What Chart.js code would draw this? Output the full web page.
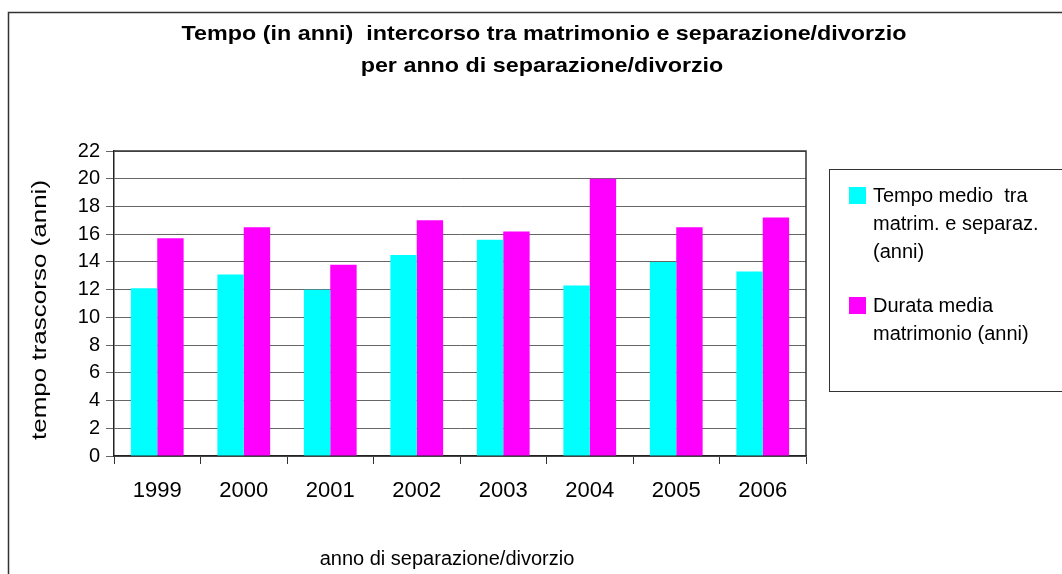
<!DOCTYPE html>
<html>
<head>
<meta charset="utf-8">
<script src="https://cdn.jsdelivr.net/npm/chart.js@4/dist/chart.umd.min.js"></script>
<style>
  html, body { margin: 0; padding: 0; background: #fff; }
  #wrap { width: 1062px; height: 574px; }
</style>
</head>
<body>
<div id="wrap"><canvas id="c" width="1062" height="574"></canvas></div>
<script>
// Years of separation/divorce
const years = ['1999', '2000', '2001', '2002', '2003', '2004', '2005', '2006'];

// Average time between marriage and separation (years)
const tempoMedio = [12.1, 13.1, 12.0, 14.5, 15.6, 12.3, 14.0, 13.3];
// Average marriage duration (years)
const durataMedia = [15.7, 16.5, 13.8, 17.0, 16.2, 20.0, 16.5, 17.2];

const seriesNames = [
  'Tempo medio  tra matrim. e separaz. (anni)',
  'Durata media matrimonio (anni)'
];
const legendLines = [
  ['Tempo medio  tra', 'matrim. e separaz.', '(anni)'],
  ['Durata media', 'matrimonio (anni)']
];
const titleLines = [
  'Tempo (in anni)  intercorso tra matrimonio e separazione/divorzio',
  'per anno di separazione/divorzio'
];
const yTitle = 'tempo trascorso (anni)';
const xTitle = 'anno di separazione/divorzio';

const FONT = '"Liberation Sans", Arial, sans-serif';

// Draws text at (x, y), stretched horizontally by sx and optionally rotated
function stretchedText(ctx, text, x, y, sx, angle) {
  ctx.save();
  ctx.translate(x, y);
  if (angle) ctx.rotate(angle);
  ctx.scale(sx, 1);
  ctx.fillText(text, 0, 0);
  ctx.restore();
}

// Outer frame, plot border, titles and the boxed legend
const decorations = {
  id: 'decorations',
  beforeDraw(chart) {
    const ctx = chart.ctx;
    ctx.save();
    ctx.fillStyle = '#fff';
    ctx.fillRect(0, 0, chart.width, chart.height);
    ctx.strokeStyle = '#333';
    ctx.lineWidth = 1.5;
    ctx.strokeRect(8.5, 12.5, chart.width + 40, chart.height + 40);
    ctx.restore();
  },
  afterDraw(chart) {
    const ctx = chart.ctx;
    const a = chart.chartArea;
    ctx.save();
    // plot border
    ctx.strokeStyle = '#333';
    ctx.lineWidth = 1.5;
    ctx.beginPath();
    ctx.moveTo(a.left, a.top);
    ctx.lineTo(a.right, a.top);
    ctx.lineTo(a.right, a.bottom);
    ctx.stroke();

    // chart title
    ctx.fillStyle = '#000';
    ctx.font = 'bold 21px ' + FONT;
    ctx.textAlign = 'center';
    ctx.textBaseline = 'alphabetic';
    stretchedText(ctx, titleLines[0], 544, 40, 1.11);
    stretchedText(ctx, titleLines[1], 542, 72, 1.11);

    // axis titles
    ctx.font = '20px ' + FONT;
    ctx.textBaseline = 'middle';
    stretchedText(ctx, yTitle, 40, 310, 1.3, -Math.PI / 2);
    ctx.textBaseline = 'alphabetic';
    stretchedText(ctx, xTitle, 447, 565, 1.0);

    // legend box
    ctx.strokeStyle = '#333';
    ctx.lineWidth = 1;
    ctx.strokeRect(829.5, 169.5, 300, 222);
    ctx.font = '20px ' + FONT;
    ctx.textAlign = 'left';
    const itemTops = [187, 297];
    chart.data.datasets.forEach((ds, i) => {
      const top = itemTops[i];
      ctx.fillStyle = ds.backgroundColor;
      ctx.fillRect(849, top, 17, 17);
      ctx.fillStyle = '#000';
      legendLines[i].forEach((line, j) => {
        ctx.fillText(line, 873, top + 15 + j * 28);
      });
    });
    ctx.restore();
  }
};

new Chart(document.getElementById('c'), {
  type: 'bar',
  data: {
    labels: years,
    datasets: [
      {
        label: seriesNames[0],
        data: tempoMedio,
        backgroundColor: '#00FFFF',
        barPercentage: 1.0,
        categoryPercentage: 0.61
      },
      {
        label: seriesNames[1],
        data: durataMedia,
        backgroundColor: '#FF00FF',
        barPercentage: 1.0,
        categoryPercentage: 0.61
      }
    ]
  },
  options: {
    responsive: false,
    animation: false,
    devicePixelRatio: 1,
    layout: { padding: { top: 151, right: 256, left: 0, bottom: 0 } },
    plugins: {
      legend: { display: false },
      title: { display: false },
      tooltip: { enabled: false }
    },
    scales: {
      x: {
        offset: true,
        afterFit(scale) { scale.height = 118; },
        grid: {
          display: true,
          offset: true,
          drawOnChartArea: false,
          drawTicks: true,
          tickLength: 8,
          color: '#333'
        },
        border: { display: true, color: '#222', width: 1.5 },
        ticks: {
          color: '#000',
          padding: 14,
          font: { family: FONT, size: 22 }
        },
        title: { display: false }
      },
      y: {
        min: 0,
        max: 22,
        afterFit(scale) { scale.width = 114; },
        grid: {
          color: '#666',
          lineWidth: 1,
          tickLength: 8,
          drawTicks: true
        },
        border: { display: true, color: '#222', width: 1.5 },
        ticks: {
          stepSize: 2,
          color: '#000',
          padding: 6,
          font: { family: FONT, size: 20 }
        },
        title: { display: false }
      }
    }
  },
  plugins: [decorations]
});
</script>
</body>
</html>
